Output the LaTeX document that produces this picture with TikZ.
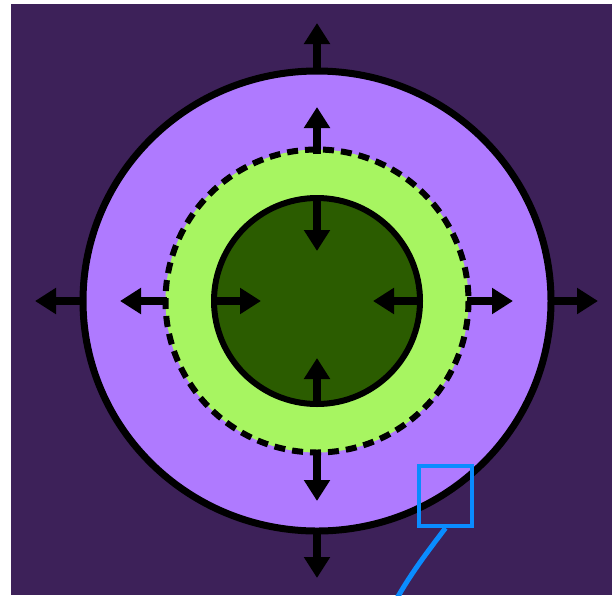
\documentclass[tikz,border=0pt]{standalone}
\usetikzlibrary{arrows.meta}
\definecolor{bgpurple}{HTML}{3D2159}
\definecolor{lightpurple}{HTML}{AF7AFF}
\definecolor{lightgreen}{HTML}{A7F561}
\definecolor{darkgreen}{HTML}{2B5C00}
\definecolor{calloutblue}{HTML}{0A8CFF}
\tikzset{
  push/.style={line width=8.5pt, -{Triangle[length=21pt,width=25pt]}, black},
  ring/.style={line width=7pt, draw=black},
}
\begin{document}
\begin{tikzpicture}[x=1pt,y=-1pt]
\useasboundingbox (0,0) rectangle (612,595);
\fill[white] (0,0) rectangle (612,595);
\begin{scope}
\clip (10.5,4) rectangle (612,595);
\fill[bgpurple] (10.5,4) rectangle (612,595);
% outer ring
\coordinate (c) at (317,301);
\filldraw[fill=lightpurple, ring] (c) ellipse [x radius=234, y radius=230];
\draw[push] (317,72) -- (317,23);
\draw[push] (317,530) -- (317,578);
\draw[push] (84,301) -- (35,301);
\draw[push] (550,301) -- (598,301);
% dashed middle ring
\fill[lightgreen] (c) circle [radius=151.5];
\draw[line width=6pt, dash pattern=on 11pt off 7pt] (c) circle [radius=151.5];
\draw[push] (317,154) -- (317,107);
\draw[push] (317,452) -- (317,501);
\draw[push] (167,301) -- (120,301);
\draw[push] (467,301) -- (513,301);
% inner core
\filldraw[fill=darkgreen, line width=6pt, draw=black] (c) circle [radius=103];
\draw[push] (317,200) -- (317,251);
\draw[push] (317,404) -- (317,358);
\draw[push] (214,301) -- (261,301);
\draw[push] (420,301) -- (373,301);
% callout
\node[draw=calloutblue, line width=4pt, minimum width=53pt, minimum height=60pt, inner sep=0pt] (box) at (445.5,496) {};
\coordinate (tail) at (396,600);
\draw[calloutblue, line width=5pt] (box.south) .. controls (425,555) and (410,575) .. (tail);
\end{scope}
\end{tikzpicture}
\end{document}
